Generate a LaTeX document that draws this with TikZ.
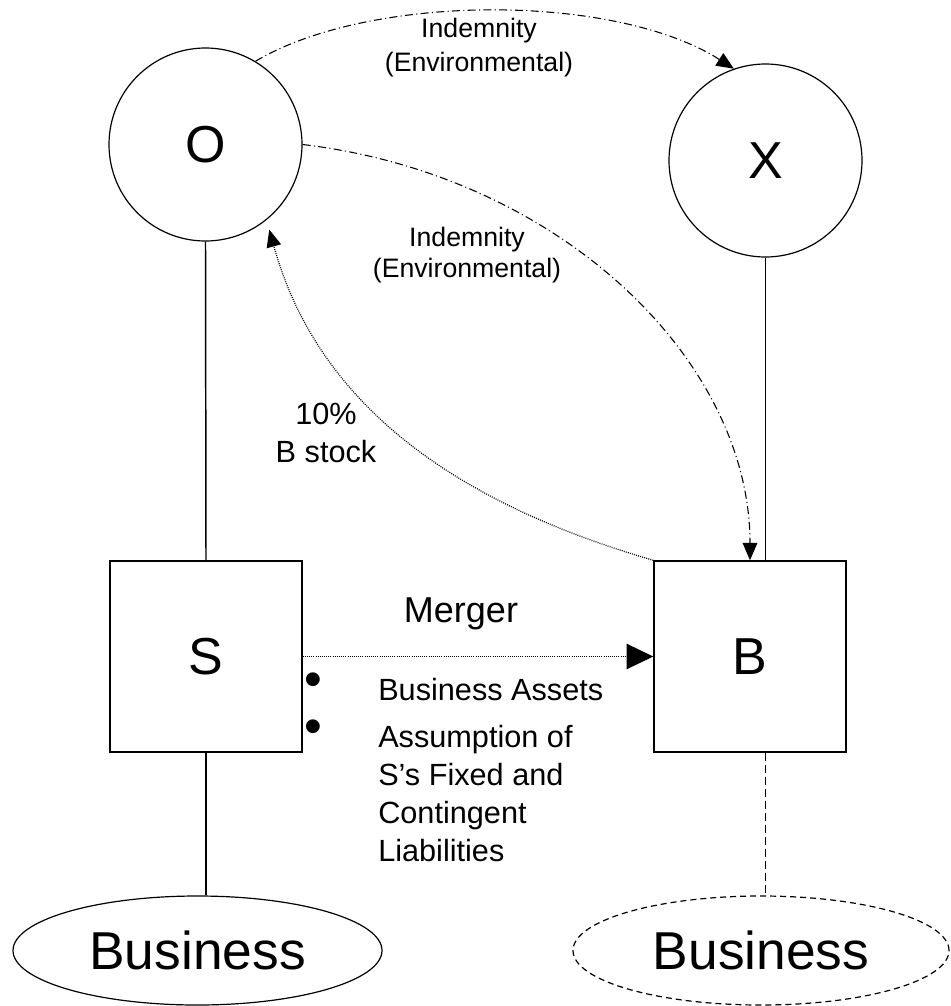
\documentclass[tikz,border=0pt]{standalone}
\usepackage{fontspec}
\setmainfont{Liberation Sans}
\usetikzlibrary{shapes.geometric,arrows.meta}
\begin{document}
\begin{tikzpicture}[x=0.75pt,y=-0.75pt,
  party/.style={circle,draw,line width=0.9pt,minimum size=144.75pt,inner sep=0pt,
    font=\fontsize{39}{47}\selectfont},
  entity/.style={rectangle,draw,line width=1.1pt,minimum width=144pt,minimum height=143.25pt,
    inner sep=0pt,font=\fontsize{39}{47}\selectfont},
  biz/.style={ellipse,draw,line width=0.9pt,inner sep=0pt,minimum height=81.75pt,
    font=\fontsize{40}{48}\selectfont},
  txt/.style={inner sep=0pt,font=\fontsize{23}{28.3}\selectfont,align=left},
  bulletmark/.style={inner sep=0pt,font=\fontsize{38}{40}\selectfont},
  note/.style={inner sep=0pt,align=center},
  solidlink/.style={line width=1.1pt},
  dashdot/.style={line width=0.8pt,dash pattern=on 6pt off 2.5pt on 0.8pt off 2.5pt},
  dots/.style={line width=0.9pt,dash pattern=on 0.7pt off 0.9pt},
  smalltip/.style={-{Triangle[length=13pt,width=11pt]}},
  bigtip/.style={-{Triangle[length=20pt,width=19pt]}}
]
\useasboundingbox (0,0) rectangle (950,1006);

% parties
\node[party] (O) at (205.5,144.5) {O};
\node[party] (X) at (765.5,160.5) {X};
\node[entity] (S) at (206,656.5) {S};
\node[entity] (B) at (750,656.5) {B};
\node[biz] (lbiz) at (197.5,950.5) [minimum width=276.75pt] {Business};
\node[biz,dashed,dash pattern=on 4.5pt off 3pt] (rbiz) at (761,950.5) [minimum width=282pt] {Business};

% ownership lines
\draw[solidlink] (O.south) -- (S.north);
\draw[solidlink] (X.south) -- (X.south |- B.north);
\draw[solidlink] (S.south) -- (S.south |- lbiz.north);
\draw[line width=1.1pt,dash pattern=on 6pt off 3pt] (X.south |- B.south) -- (X.south |- rbiz.north);

% indemnity from O to X
\draw[dashdot,smalltip] (O.59) .. controls (370,-7) and (615,-7) .. (X.109);
\node[note,font=\fontsize{20}{25.5}\selectfont] (ind1) at (479,48) {Indemnity\\(Environmental)};

% indemnity from O to B
\draw[dashdot,smalltip] (O.east) .. controls (560,175) and (750,360) .. (B.north);
\node[note,font=\fontsize{20}{23.5}\selectfont] (ind2) at (467,255) {Indemnity\\(Environmental)};

% B stock to O
\draw[dots,smalltip,shorten >=7.5pt] (B.north west) .. controls (480,510) and (322,420) .. (O.-51.5);
\node[note,font=\fontsize{23}{29}\selectfont] (stock) at (326,433) {10\%\\B stock};

% merger
\draw[dots,bigtip] (S.east) -- (B.west);
\node[note,font=\fontsize{27}{32}\selectfont] (merger) at (461,614) {Merger};
\node[bulletmark] (bul1) at (313,685) {•};
\node[bulletmark] (bul2) at (313,732) {•};
\node[txt,anchor=west] (assets) at (378,690) {Business Assets};
\node[txt,anchor=west] (assume) at (378,793.5) {Assumption of\\S’s Fixed and\\Contingent\\Liabilities};
\end{tikzpicture}
\end{document}
